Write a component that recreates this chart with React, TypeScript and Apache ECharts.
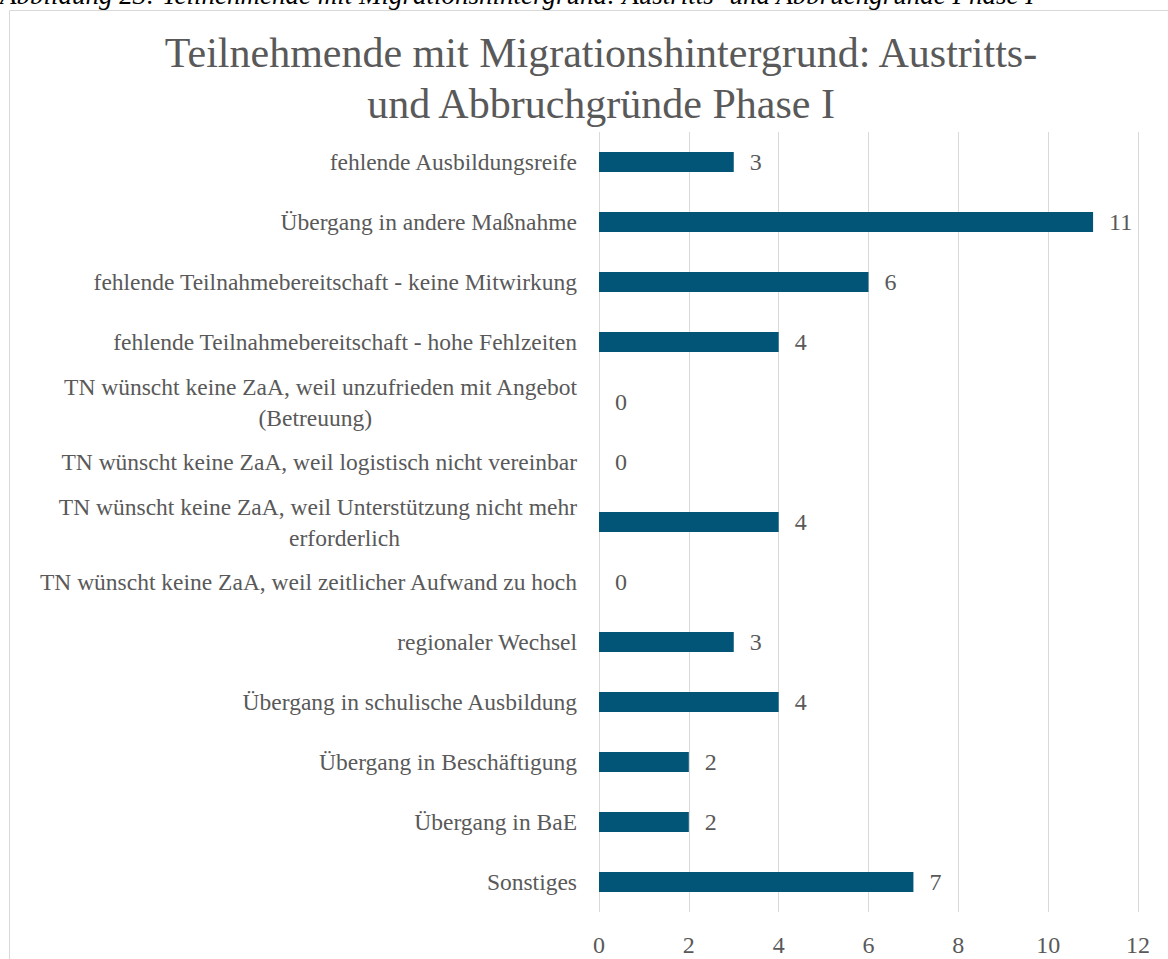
import React, { useEffect, useRef } from "react";
import * as echarts from "echarts";

const caption =
  "Abbildung 23: Teilnehmende mit Migrationshintergrund: Austritts- und Abbruchgründe Phase I";
const titleLines = [
  "Teilnehmende mit Migrationshintergrund: Austritts-",
  "und Abbruchgründe Phase I",
];
const categories = [
  "fehlende Ausbildungsreife",
  "Übergang in andere Maßnahme",
  "fehlende Teilnahmebereitschaft - keine Mitwirkung",
  "fehlende Teilnahmebereitschaft - hohe Fehlzeiten",
  "TN wünscht keine ZaA, weil unzufrieden mit Angebot\n(Betreuung)",
  "TN wünscht keine ZaA, weil logistisch nicht vereinbar",
  "TN wünscht keine ZaA, weil Unterstützung nicht mehr\nerforderlich",
  "TN wünscht keine ZaA, weil zeitlicher Aufwand zu hoch",
  "regionaler Wechsel",
  "Übergang in schulische Ausbildung",
  "Übergang in Beschäftigung",
  "Übergang in BaE",
  "Sonstiges",
];
const values = [3, 11, 6, 4, 0, 0, 4, 0, 3, 4, 2, 2, 7];
const xTicks = { min: 0, max: 12, interval: 2 };

const FONT = "'Liberation Serif', serif";
const TEXT = "#595959";
const BAR = "#025576";
const GRID = "#d9d9d9";

// right padding for second line of wrapped labels (to mimic Excel placement)
const secondLinePad: Record<string, number> = {
  "(Betreuung)": 205,
  erforderlich: 177,
};

const labelStyle = { fontFamily: FONT, fontSize: 23.5, color: TEXT, lineHeight: 31 };

export default function App() {
  const ref = useRef<HTMLDivElement>(null);
  useEffect(() => {
    if (!ref.current) return;
    const chart = echarts.init(ref.current, undefined, { renderer: "svg" });
    chart.setOption({
      animation: false,
      backgroundColor: "#ffffff",
      title: {
        text: titleLines.join("\n"),
        left: 596,
        top: 22,
        textAlign: "center",
        textStyle: {
          fontFamily: FONT,
          fontSize: 42,
          fontWeight: "normal",
          color: TEXT,
          lineHeight: 51,
        },
      },
      graphic: [
        {
          type: "rect",
          shape: { x: 9.5, y: 10.5, width: 1200, height: 1000 },
          style: { fill: "none", stroke: GRID, lineWidth: 1 },
          silent: true,
        },
        {
          type: "text",
          x: 0,
          y: -19,
          style: {
            text: caption,
            font: "italic 27px 'Liberation Serif', serif",
            fill: "#000000",
            verticalAlign: "top",
          },
          silent: true,
        },
      ],
      grid: { left: 599, right: 30, top: 132, height: 780, containLabel: false },
      xAxis: {
        type: "value",
        min: xTicks.min,
        max: xTicks.max,
        interval: xTicks.interval,
        axisLine: { show: false },
        axisTick: { show: false },
        splitLine: { show: true, lineStyle: { color: GRID, width: 1 } },
        axisLabel: {
          margin: 21,
          fontFamily: FONT,
          fontSize: 24,
          color: TEXT,
        },
      },
      yAxis: {
        type: "category",
        data: categories,
        inverse: true,
        axisLine: { show: false },
        axisTick: { show: false },
        axisLabel: {
          margin: 22,
          interval: 0,
          formatter: (v: string) => {
            const parts = v.split("\n");
            if (parts.length === 1) return `{a|${v}}`;
            const pad = secondLinePad[parts[1]] || 0;
            return `{a|${parts[0]}}\n{b${pad}|${parts[1]}}`;
          },
          rich: {
            a: labelStyle,
            b205: { ...labelStyle, padding: [0, 205, 0, 0] },
            b177: { ...labelStyle, padding: [0, 177, 0, 0] },
          },
        },
      },
      series: [
        {
          type: "bar",
          data: values,
          barWidth: 20,
          itemStyle: { color: BAR },
          label: {
            show: true,
            position: "right",
            distance: 16,
            fontFamily: FONT,
            fontSize: 24,
            color: TEXT,
          },
        },
      ],
    });
    return () => chart.dispose();
  }, []);
  return (
    <div
      ref={ref}
      style={{ position: "absolute", left: 0, top: 0, width: 1168, height: 959 }}
    />
  );
}
